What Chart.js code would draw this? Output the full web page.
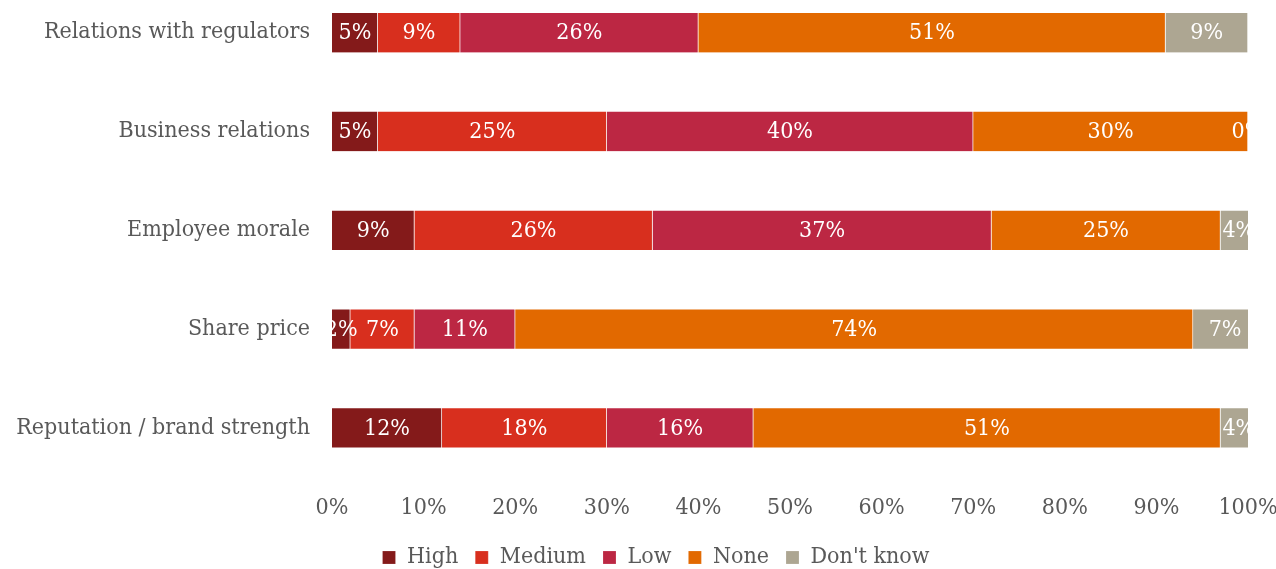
<!DOCTYPE html>
<html>
<head>
<meta charset="utf-8">
<title>Impact by area</title>
<script src="https://cdn.jsdelivr.net/npm/chart.js@4"></script>
<style>
  html, body { margin: 0; padding: 0; background: #fff; overflow: hidden; }
  #wrap { position: absolute; left: 0; top: -17px; width: 1276px; height: 620px; }
</style>
</head>
<body>
<div id="wrap"><canvas id="impact"></canvas></div>
<script>
let categories = ["Relations with regulators", "Business relations", "Employee morale", "Share price", "Reputation / brand strength"];
let high = [5, 5, 9, 2, 12];
let medium = [9, 25, 26, 7, 18];
let low = [26, 40, 37, 11, 16];
let none = [51, 30, 25, 74, 51];
let dontKnow = [9, 0, 4, 7, 4];
let xTicks = [0, 10, 20, 30, 40, 50, 60, 70, 80, 90, 100];

const font = "'DejaVu Serif Condensed', 'DejaVu Serif', serif";
const size = 23;
const grey = "#595959";

function series(label, data, color) {
  return {
    label: label,
    data: data,
    backgroundColor: color,
    borderColor: "rgba(255,255,255,0.35)",
    borderWidth: { top: 1, right: 1, bottom: 0, left: 0 },
    borderSkipped: false,
    barThickness: 40,
  };
}

// white value labels centred in each segment, clipped to the plot area
const valueLabels = {
  id: "valueLabels",
  afterDatasetsDraw(chart) {
    const ctx = chart.ctx;
    const area = chart.chartArea;
    ctx.save();
    ctx.beginPath();
    ctx.rect(area.left, area.top, area.right - area.left, area.bottom - area.top);
    ctx.clip();
    ctx.font = size + "px " + font;
    ctx.fillStyle = "#ffffff";
    ctx.textAlign = "center";
    ctx.textBaseline = "middle";
    chart.data.datasets.forEach((ds, i) => {
      chart.getDatasetMeta(i).data.forEach((bar, j) => {
        ctx.fillText(ds.data[j] + "%", (bar.x + bar.base) / 2, bar.y + 1);
      });
    });
    ctx.restore();
  },
};

// legend sits a little right of the canvas centre
const legendShift = {
  id: "legendShift",
  afterLayout(chart) {
    chart.legend.left += 32;
    chart.legend.right += 32;
  },
};

new Chart("impact", {
  type: "bar",
  data: {
    labels: categories,
    datasets: [
      series("High", high, "#841A1A"),
      series("Medium", medium, "#D82F1E"),
      series("Low", low, "#BC2743"),
      series("None", none, "#E26900"),
      series("Don't know", dontKnow, "#ADA692"),
    ],
  },
  plugins: [valueLabels, legendShift],
  options: {
    indexAxis: "y",
    responsive: true,
    maintainAspectRatio: false,
    animation: false,
    layout: { padding: { left: 0, right: 28, top: 0, bottom: 24 } },
    scales: {
      x: {
        stacked: true,
        min: 0,
        max: 100,
        afterBuildTicks(scale) {
          scale.ticks = xTicks.map((v) => ({ value: v }));
        },
        afterFit(scale) {
          scale.height = 52;
          scale.paddingLeft = 0;
          scale.paddingRight = 0;
        },
        grid: { display: false, drawTicks: false },
        border: { display: false },
        ticks: {
          padding: 17,
          color: grey,
          font: { family: font, size: size },
          callback: (v) => v + "%",
          maxRotation: 0,
        },
      },
      y: {
        stacked: true,
        afterFit(scale) {
          scale.width = 332;
          scale.paddingTop = 0;
          scale.paddingBottom = 0;
        },
        grid: { display: false, drawTicks: false },
        border: { display: false },
        ticks: {
          padding: 22,
          color: grey,
          font: { family: font, size: size },
        },
      },
    },
    plugins: {
      legend: {
        position: "bottom",
        labels: {
          boxWidth: 13,
          boxHeight: 13,
          padding: 17,
          color: grey,
          font: { family: font, size: size },
        },
      },
      tooltip: { enabled: false },
    },
  },
});
</script>
</body>
</html>
